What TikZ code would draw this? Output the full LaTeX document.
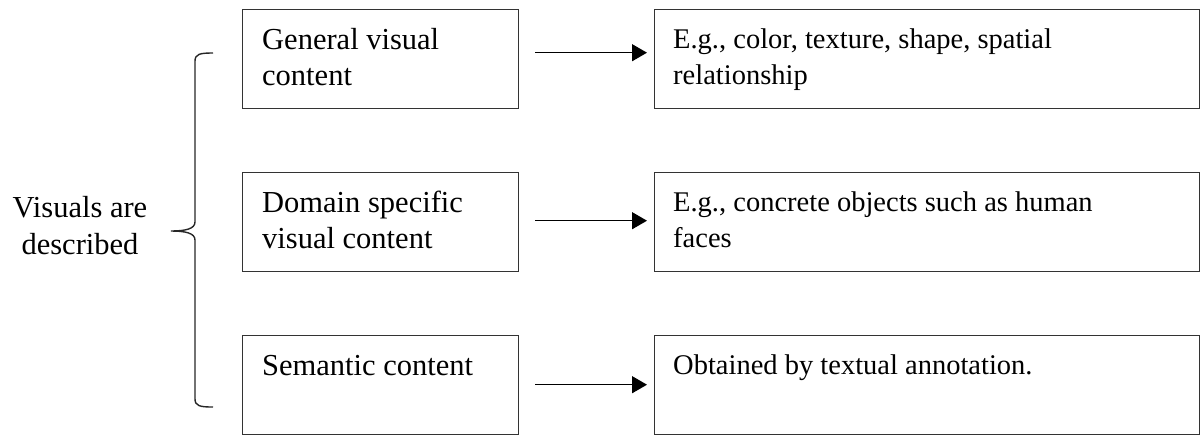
\documentclass[tikz,border=0pt]{standalone}
\usepackage{fontspec}
\setmainfont{Liberation Serif}
\usetikzlibrary{arrows.meta}
\begin{document}
\begin{tikzpicture}[x=1pt,y=-1pt,
  box/.style={draw=black!80, line width=1.4pt, inner sep=0pt, anchor=north west},
  lbox/.style={box, minimum width=276pt, minimum height=99pt},
  rbox/.style={box, minimum width=545pt, minimum height=99pt},
  txt/.style={anchor=base west, inner sep=0pt, align=left},
  ltxt/.style={txt, font=\fontsize{30.5}{36}\selectfont},
  rtxt/.style={txt, font=\fontsize{28.5}{36}\selectfont},
  arr/.style={line width=1.3pt, -{Triangle[length=15pt,width=17pt]}},
  brace/.style={line width=1.4pt, draw=black!85}]
\useasboundingbox (0,0) rectangle (1201,437);
% left boxes
\node[lbox] (g1) at (242,9) {};
\node[lbox] (g2) at (242,172) {};
\node[lbox] (g3) at (242,335) {};
% right boxes
\node[rbox] (e1) at (654,9) {};
\node[rbox] (e2) at (654,172) {};
\node[rbox] (e3) at (654,335) {};
% texts (base anchor = last line's baseline)
\node[ltxt] (t1) at ([xshift=20pt,yshift=-76pt]g1.north west) {General visual\\content};
\node[ltxt] (t2) at ([xshift=20pt,yshift=-76pt]g2.north west) {Domain specific\\visual content};
\node[ltxt] (t3) at ([xshift=20pt,yshift=-40pt]g3.north west) {Semantic content};
\node[rtxt] (s1) at ([xshift=19pt,yshift=-75pt]e1.north west) {E.g., color, texture, shape, spatial\\relationship};
\node[rtxt] (s2) at ([xshift=19pt,yshift=-75pt]e2.north west) {E.g., concrete objects such as human\\faces};
\node[rtxt] (s3) at ([xshift=19pt,yshift=-39pt]e3.north west) {Obtained by textual annotation.};
% arrows
\draw[arr] ([xshift=16pt,yshift=6.5pt]g1.east) -- ([xshift=-7pt,yshift=6.5pt]e1.west);
\draw[arr] ([xshift=16pt,yshift=1.5pt]g2.east) -- ([xshift=-7pt,yshift=1.5pt]e2.west);
\draw[arr] ([xshift=16pt,yshift=0.5pt]g3.east) -- ([xshift=-7pt,yshift=0.5pt]e3.west);
% left label
\node[font=\fontsize{30.5}{37}\selectfont, align=center, inner sep=0pt, anchor=base] (v) at (80,254) {Visuals are\\described};
% brace
\coordinate (btop) at (213,53);
\coordinate (btip) at (171,231);
\coordinate (bbot) at (213,407);
\draw[brace] (btop) .. controls (200,53) and (195,54) .. (195,61) -- (195,222)
  .. controls (195,229) and (185,231) .. (btip)
  .. controls (185,231) and (195,233) .. (195,240) -- (195,399)
  .. controls (195,406) and (200,407) .. (bbot);
\end{tikzpicture}
\end{document}
